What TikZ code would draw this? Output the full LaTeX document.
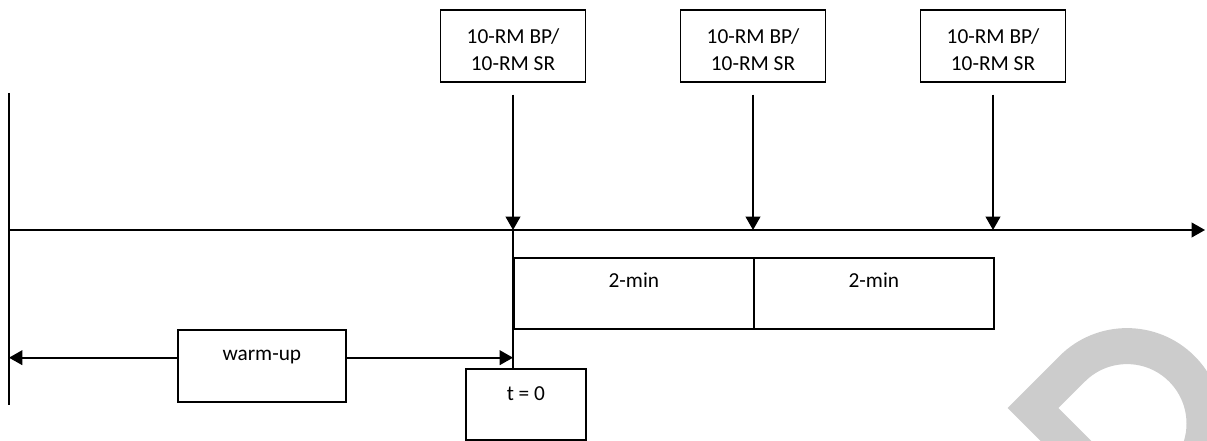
\documentclass[tikz,border=0pt]{standalone}
\usepackage{fontspec}
\setmainfont{Carlito}
\usetikzlibrary{arrows.meta}
\begin{document}
\begin{tikzpicture}[x=0.75pt,y=-0.75pt,line width=1.3pt,
  box/.style={draw, rectangle, inner sep=0pt, font=\fontsize{16}{20}\selectfont},
  topbox/.style={box, anchor=north, minimum width=108.75pt, text height=25.5pt, text depth=28.5pt},
  phasebox/.style={box, anchor=north west, minimum width=180pt, text height=22.5pt, text depth=30.75pt},
  arr/.style={-{Triangle[length=10pt,width=11pt]}}]
\useasboundingbox (0,0) rectangle (1207,441);

% faint watermark letter in the lower right corner
\begin{scope}
  \clip (0,0) rectangle (1207,441);
  \draw[line width=27pt, black!20, line join=miter]
    (1142.6,517.6) -- (1033,408) -- (1072.2,368.8)
    arc[start angle=225, end angle=405, radius=77.5] -- cycle;
\end{scope}

% time axis and its reference points
\coordinate (vt) at (9,93);
\coordinate (vb) at (9,405);
\coordinate (ax0) at (9,230);
\coordinate (ax1) at (1205,230);
\coordinate (m1) at (513,230);
\coordinate (m2) at (753,230);
\coordinate (m3) at (993,230);

% test boxes above the axis
\node[topbox] (tb1) at (513,9) {\begin{tabular}[t]{@{}c@{}}10-RM BP/\\10-RM SR\end{tabular}};
\node[topbox] (tb2) at (753,9) {\begin{tabular}[t]{@{}c@{}}10-RM BP/\\10-RM SR\end{tabular}};
\node[topbox] (tb3) at (993,9) {\begin{tabular}[t]{@{}c@{}}10-RM BP/\\10-RM SR\end{tabular}};

% rest intervals
\node[phasebox] (p1) at (513,257) {2-min};
\node[phasebox] (p2) at (753,257) {2-min};

% warm-up and start
\node[box, anchor=north west, minimum width=126pt, text height=23.25pt, text depth=30.75pt] (wu) at (177,329) {warm-up};
\node[box, anchor=north west, minimum width=90pt, text height=24pt, text depth=29.25pt] (t0) at (465,368) {t = 0};

% lines and arrows
\draw (vt) -- (vb);
\draw[arr] (ax0) -- (ax1);
\draw[arr, shorten <=9pt] (tb1) -- (m1);
\draw[arr, shorten <=9pt] (tb2) -- (m2);
\draw[arr, shorten <=9pt] (tb3) -- (m3);
\draw (m1) -- (m1 |- t0.north);
\draw[arr] (wu.mid west) -- (wu.mid west -| vt);
\draw[arr] (wu.mid east) -- (wu.mid east -| m1);
\end{tikzpicture}
\end{document}
